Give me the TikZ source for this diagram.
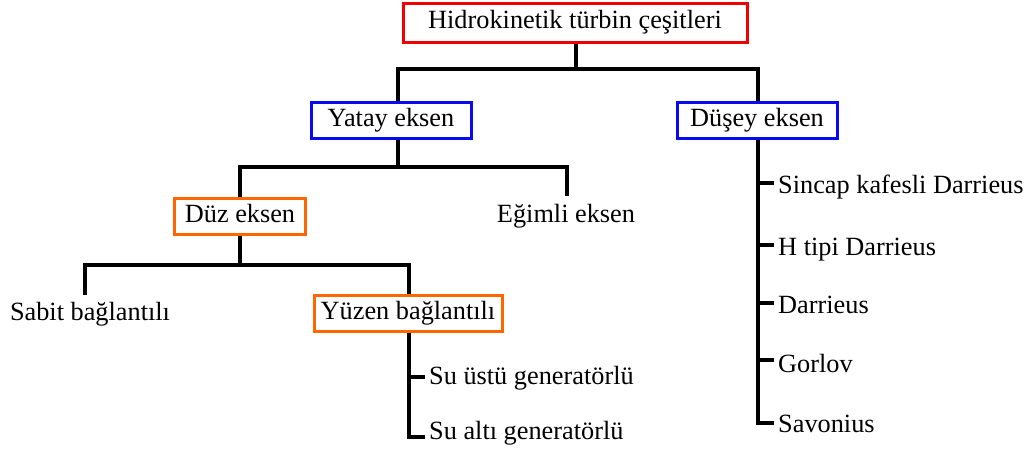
\documentclass[tikz,border=0pt]{standalone}
\usepackage{fontspec}
\setmainfont{Liberation Serif}
\definecolor{boxred}{RGB}{240,0,0}
\definecolor{boxblue}{RGB}{10,10,240}
\definecolor{boxorange}{RGB}{255,102,0}
\begin{document}
\begin{tikzpicture}[x=1pt,y=-1pt,
  every node/.style={font=\fontsize{26.3}{30}\selectfont, inner sep=0pt},
  box/.style={draw, line width=3pt, minimum height=36pt, text height=18pt, text depth=6pt, fill=white},
  conn/.style={line width=4pt, line join=miter},
  leaf/.style={anchor=base west, inner xsep=4pt},
  plain/.style={anchor=base}]
\useasboundingbox (0,0) rectangle (1033,453);
% boxes
\node[box, draw=boxred, minimum width=344, minimum height=39] (root) at (575,22.5) {Hidrokinetik türbin çeşitleri};
\node[box, draw=boxblue, minimum width=160] (yatay) at (391,120) {Yatay eksen};
\node[box, draw=boxblue, minimum width=160] (dusey) at (757,120) {Düşey eksen};
\node[box, draw=boxorange, minimum width=131] (duz) at (240,216) {Düz eksen};
\node[box, draw=boxorange, minimum width=188] (yuzen) at (408,313.5) {Yüzen bağlantılı};
% plain labels
\node[plain] (egimli) at (566,222) {Eğimli eksen};
\node[plain] (sabit) at (90,320) {Sabit bağlantılı};
% leaves
\node[leaf] (ustu) at (425,384) {Su üstü generatörlü};
\node[leaf] (alti) at (425,439) {Su altı generatörlü};
\node[leaf] (sincap) at (774,193) {Sincap kafesli Darrieus};
\node[leaf] (htipi) at (774,255) {H tipi Darrieus};
\node[leaf] (darr) at (774,313) {Darrieus};
\node[leaf] (gorlov) at (774,372) {Gorlov};
\node[leaf] (savon) at (774,432) {Savonius};
% junction coordinates
\coordinate (j1) at (576,69);
\coordinate (yx) at (398,0);
\coordinate (j2) at (398,167);
\coordinate (egtop) at (567,196);
\coordinate (j3) at (240,265);
\coordinate (sb) at (85,295);
\coordinate (yz) at (409,0);
\coordinate (dx) at (758,0);
% connectors
\draw[conn] (root.south -| j1) -- (j1);
\draw[conn] (yatay.north -| yx) |- (j1) -| (dusey.north -| dx);
\draw[conn] (yatay.south -| yx) -- (j2);
\draw[conn] (duz.north) |- (j2) -| (egtop);
\draw[conn] (duz.south) -- (j3);
\draw[conn] (sb) |- (j3) -| (yuzen.north -| yz);
\draw[conn] (yuzen.south -| yz) |- ([yshift=2pt]alti.base west);
\draw[conn] (yz |- ustu.base west) ++(0,-7) -- ([yshift=7pt]ustu.base west);
\draw[conn] (dusey.south -| dx) |- ([yshift=9pt]savon.base west);
\draw[conn] ([yshift=10pt]sincap.base west) -- ([yshift=10pt]sincap.base west -| dx);
\draw[conn] ([yshift=10pt]htipi.base west) -- ([yshift=10pt]htipi.base west -| dx);
\draw[conn] ([yshift=10pt]darr.base west) -- ([yshift=10pt]darr.base west -| dx);
\draw[conn] ([yshift=12pt]gorlov.base west) -- ([yshift=12pt]gorlov.base west -| dx);
\end{tikzpicture}
\end{document}
